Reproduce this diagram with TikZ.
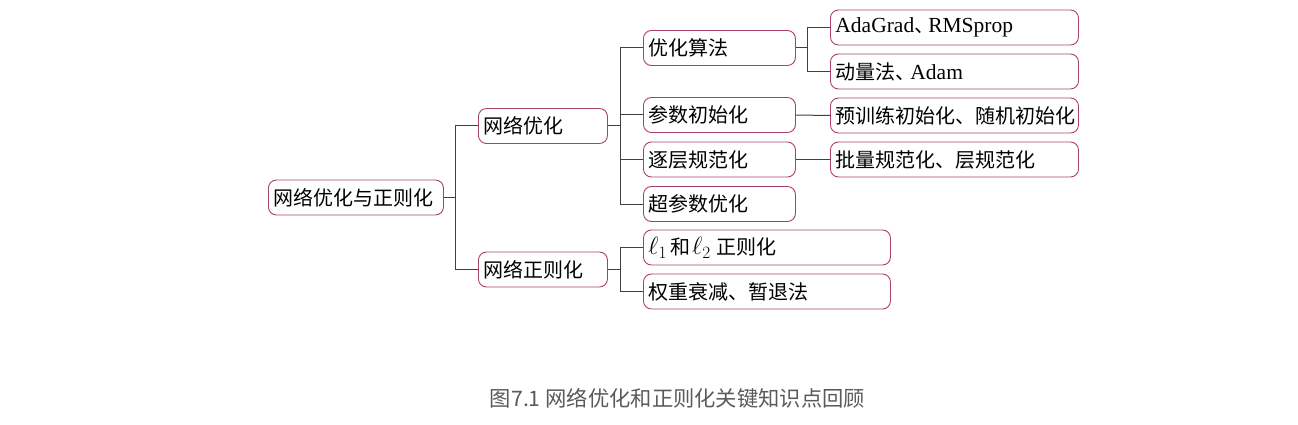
\documentclass[tikz,border=0pt]{standalone}
\usepackage{fontspec}
\setmainfont{Liberation Serif}
\newfontfamily\cjk{Noto Sans CJK SC}
\newfontfamily\latin{Liberation Serif}
\newcommand{\myLt}[1]{{\latin\fontsize{21.5}{24}\selectfont #1}}
\newcommand{\myEll}[1]{{\fontsize{27}{24}\selectfont$\ell_{#1}$}}
\definecolor{boxc}{HTML}{A8406E}
\definecolor{linec}{HTML}{404040}
\definecolor{capc}{HTML}{5A5A5A}
\begin{document}
\begin{tikzpicture}[x=1pt,y=-1pt,
  box/.style={draw=boxc,line width=0.9pt,rounded corners=8pt,minimum height=35pt,
    inner xsep=5pt,inner ysep=0pt,anchor=west,align=left,
    font=\cjk\fontsize{20}{24}\selectfont},
  conn/.style={draw=linec,line width=1pt}]
\useasboundingbox (0,0) rectangle (1298,425);
\node[box,text width=165pt] (root) at (268,197.5) {网络优化与正则化};
\node[box,text width=119pt] (n1) at (478,126) {网络优化};
\node[box,text width=119pt] (n2) at (478,269.5) {网络正则化};
\node[box,text width=142pt] (a1) at (643,48) {优化算法};
\node[box,text width=142pt] (a2) at (643,115) {参数初始化};
\node[box,text width=142pt] (a3) at (643,159.5) {逐层规范化};
\node[box,text width=142pt] (a4) at (643,204) {超参数优化};
\node[box,text width=237pt] (b1) at (643,247.5) {\myEll{1}\kern3pt 和\kern2pt\myEll{2}\kern6pt 正则化};
\node[box,text width=237pt] (b2) at (643,291.5) {权重衰减、暂退法};
\node[box,text width=238pt] (c1) at (830,27.5) {\myLt{AdaGrad}、\kern-6pt\myLt{RMSprop}};
\node[box,text width=238pt] (c2) at (830,71.5) {动量法、\kern-5pt\myLt{Adam}};
\node[box,text width=238pt] (c3) at (830,115.5) {预训练初始化、随机初始化};
\node[box,text width=238pt] (c4) at (830,159.5) {批量规范化、层规范化};
\coordinate (j0) at (455,197.5);
\coordinate (j1) at (620,126);
\coordinate (j2) at (620,269.5);
\coordinate (j3) at (807,48);
\draw[conn] (root.east) -- (j0);
\draw[conn] (j0) |- (n1.west);
\draw[conn] (j0) |- (n2.west);
\draw[conn] (n1.east) -- (j1);
\draw[conn] (j1) |- (a1.west);
\draw[conn] (j1) |- (a2.west);
\draw[conn] (j1) |- (a3.west);
\draw[conn] (j1) |- (a4.west);
\draw[conn] (n2.east) -- (j2);
\draw[conn] (j2) |- (b1.west);
\draw[conn] (j2) |- (b2.west);
\draw[conn] (a1.east) -- (j3);
\draw[conn] (j3) |- (c1.west);
\draw[conn] (j3) |- (c2.west);
\draw[conn] (a2.east) -- (c3.west);
\draw[conn] (a3.east) -- (c4.west);
\node[font=\cjk\fontsize{21.3}{24}\selectfont,text=capc] (cap) at (677.5,398) {图7.1 网络优化和正则化关键知识点回顾};
\end{tikzpicture}
\end{document}
